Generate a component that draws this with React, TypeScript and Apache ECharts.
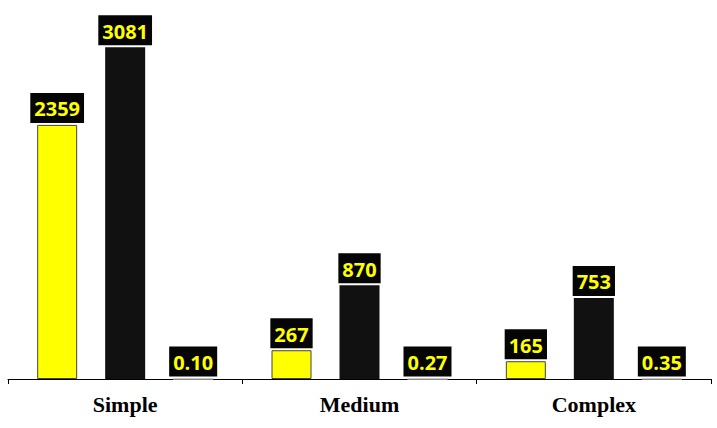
import React, { useEffect, useRef } from "react";
import * as echarts from "echarts";

const categories = ["Simple", "Medium", "Complex"];
const seriesYellow = [2359, 267, 165];
const seriesBlack = [3081, 870, 753];
const seriesThird = [0.1, 0.27, 0.35];

export default function App() {
  const ref = useRef<HTMLDivElement>(null);
  useEffect(() => {
    if (!ref.current) return;
    const chart = echarts.init(ref.current, null, { renderer: "svg" });
    const label = (fmt?: (p: any) => string) => ({
      show: true,
      position: "top",
      distance: 2,
      color: "#FFFF00",
      backgroundColor: "#050505",
      fontFamily: "Open Sans",
      fontWeight: "bold",
      fontSize: 20,
      lineHeight: 20,
      padding: [6, 4, 4, 4],
      formatter: fmt,
    });
    chart.setOption({
      animation: false,
      grid: { left: 8, right: 6, top: 2, bottom: 49, containLabel: false },
      xAxis: {
        type: "category",
        data: categories,
        axisLine: { show: true, lineStyle: { color: "#000", width: 1 } },
        axisTick: { show: true, length: 5, lineStyle: { color: "#000" } },
        axisLabel: {
          color: "#000",
          fontFamily: "Liberation Serif",
          fontWeight: "bold",
          fontSize: 22,
          margin: 14,
        },
      },
      yAxis: {
        type: "value",
        min: 0,
        max: 3500,
        show: false,
        splitLine: { show: false },
      },
      series: [
        {
          type: "bar",
          data: seriesYellow,
          barWidth: 40,
          barGap: "70%",
          itemStyle: { color: "#FFFF00", borderColor: "#444", borderWidth: 1 },
          label: label(),
        },
        {
          type: "bar",
          data: seriesBlack,
          barWidth: 40,
          barGap: "70%",
          itemStyle: { color: "#111111" },
          label: label(),
        },
        {
          type: "bar",
          data: seriesThird,
          barWidth: 40,
          barGap: "70%",
          itemStyle: { color: "#ffffff", borderColor: "#bbbbbb", borderWidth: 1 },
          label: label((p: any) => Number(p.value).toFixed(2)),
        },
      ],
    });
    return () => chart.dispose();
  }, []);
  return (
    <div
      ref={ref}
      style={{ position: "fixed", left: 0, top: 0, width: 717, height: 428, background: "#fff" }}
    />
  );
}
